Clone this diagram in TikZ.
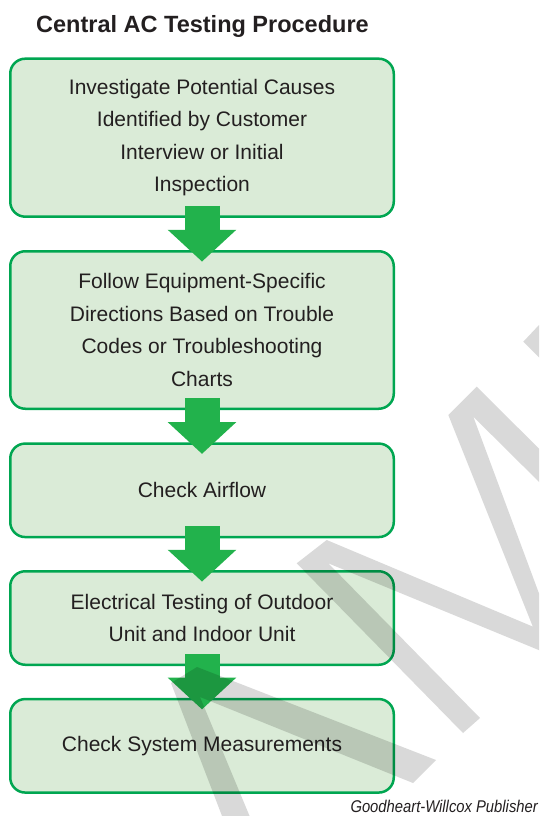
\documentclass[tikz,border=0pt]{standalone}
\usepackage{fontspec}
\setmainfont{Liberation Sans}
\newfontfamily\creditfont[FakeStretch=0.87]{Liberation Sans}
\usetikzlibrary{arrows.meta}

\definecolor{inktext}{HTML}{231F20}
\definecolor{boxline}{HTML}{00A651}
\definecolor{boxfill}{HTML}{DAEBD7}
\definecolor{arrowgreen}{HTML}{22B24C}

\tikzset{
  stepbox/.style={draw=boxline, line width=2.5pt, fill=boxfill, rounded corners=15pt,
    minimum width=383.5pt, inner sep=0pt, align=center, text=inktext,
    font=\fontsize{21}{32.4}\selectfont},
  flowarrow/.style={draw=arrowgreen, line width=35pt,
    -{Triangle[width=68.6pt,length=31.7pt,line width=0pt]}},
  wmark/.style={fill=black, fill opacity=0.15}
}

\begin{document}
\begin{tikzpicture}[x=1pt, y=-1pt]
          \useasboundingbox (0,0) rectangle (539,816);

          \node [anchor=base west, inner sep=0pt, text=inktext, font=\bfseries\fontsize{23.5}{28}\selectfont] (title) at (36,32.3) {Central AC Testing Procedure}; % Title

          \node [stepbox, minimum height=158pt] (b1) at (202,137.7) {Investigate Potential Causes\\Identified by Customer\\Interview or Initial\\Inspection};
          \node [stepbox, minimum height=157.5pt] (b2) at (202,330) {Follow Equipment-Specific\\Directions Based on Trouble\\Codes or Troubleshooting\\Charts};
          \node [stepbox, minimum height=93.5pt] (b3) at (202,490.3) {Check Airflow};
          \node [stepbox, minimum height=93.5pt] (b4) at (202,618) {Electrical Testing of Outdoor\\Unit and Indoor Unit};
          \node [stepbox, minimum height=93.5pt] (b5) at (202,745.8) {Check System Measurements};

          \draw [flowarrow] ([yshift=12pt]b1.south) -- ([yshift=-11.5pt]b2.north);
          \draw [flowarrow] ([yshift=12pt]b2.south) -- ([yshift=-11.5pt]b3.north);
          \draw [flowarrow] ([yshift=12pt]b3.south) -- ([yshift=-11.5pt]b4.north);
          \draw [flowarrow] ([yshift=12pt]b4.south) -- ([yshift=-11.5pt]b5.north);

          \node [anchor=base east, inner sep=0pt, text=inktext, font=\creditfont\itshape\fontsize{17}{17}\selectfont] (credit) at (538,812.5) {Goodheart-Willcox Publisher}; % Credit line

          % watermark strokes
          \begin{scope}
            \clip (0,0) rectangle (539,816);
            \fill [wmark] (171,683) -- (197,667) -- (436,760) -- (413,783) -- (200,697) -- (255.4,830) -- (227.4,830) -- cycle;
            \fill [wmark] (326.7,540) -- (532.8,626.6) -- (448.3,415) -- (476.7,386.7) -- (560,469.5) -- (560,502.7)
              -- (473.3,416.7) -- (560,649.9) -- (560,658.8) -- (328.3,563.3) -- (480,718) -- (463,733) -- (296.7,563.3) -- cycle;
            \fill [wmark] (523.3,341.7) -- (539,325) -- (560,346) -- (560,378.4) -- cycle;
          \end{scope}
        \end{tikzpicture}
\end{document}
